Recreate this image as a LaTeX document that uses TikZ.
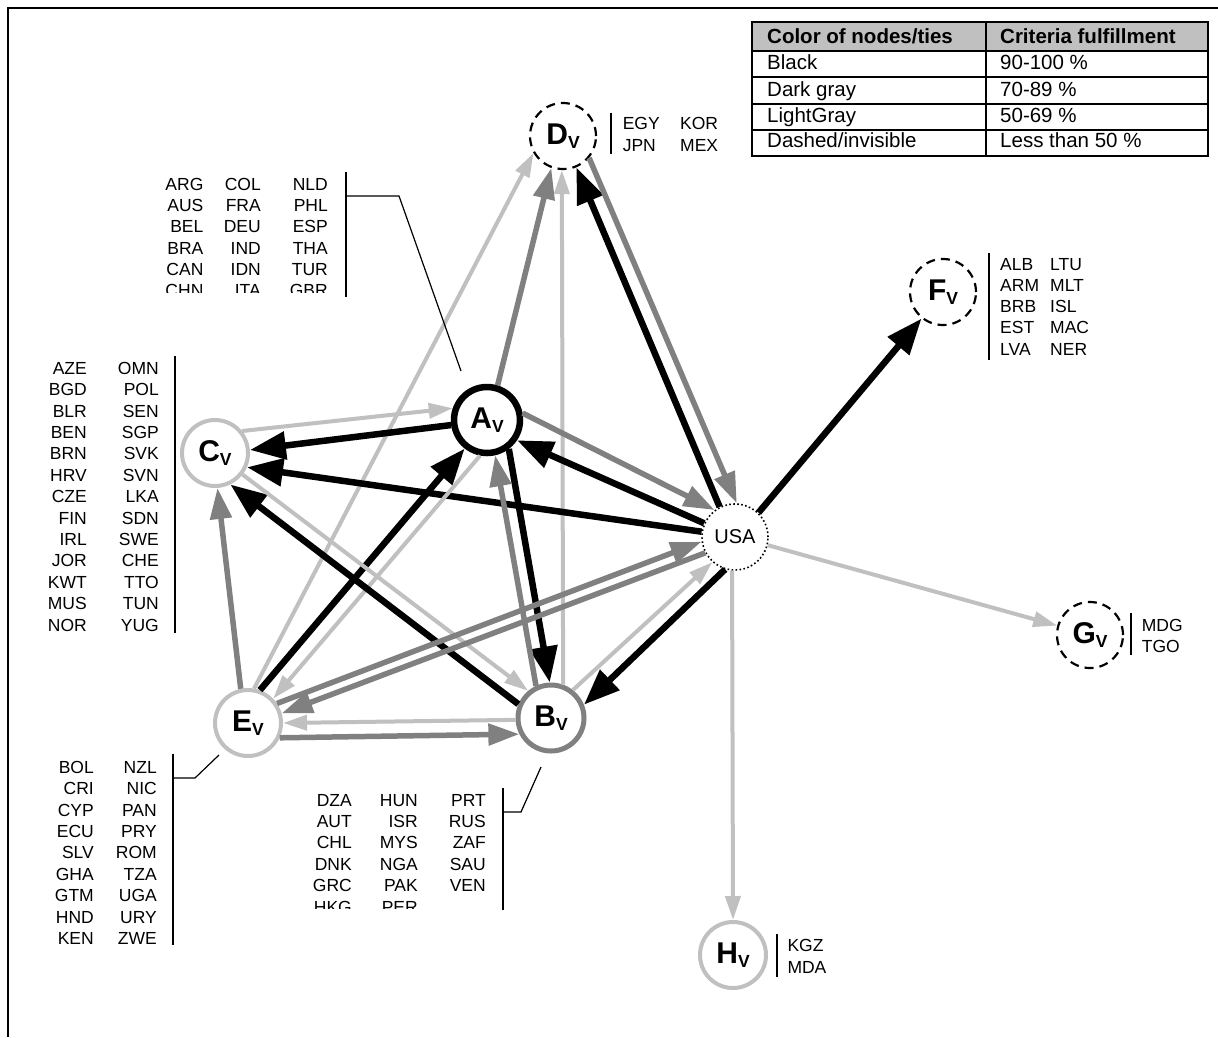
\documentclass[tikz,border=0pt]{standalone}
\usepackage{fontspec}
\setmainfont{Liberation Sans}
\usetikzlibrary{arrows.meta}
\definecolor{dg}{HTML}{808080}
\definecolor{lg}{HTML}{C0C0C0}
\newcommand\vlab[1]{{\fontsize{30}{30}\selectfont\bfseries #1\raisebox{-3.5pt}{\fontsize{17.5}{17.5}\selectfont V}}}
\begin{document}
\begin{tikzpicture}[x=1pt,y=-1pt,
  vnode/.style={circle, minimum size=66pt, inner sep=0pt, fill=white},
  nblack/.style={vnode, draw=black, line width=6.5pt},
  ndark/.style={vnode, draw=dg, line width=5pt},
  nlight/.style={vnode, draw=lg, line width=4pt},
  ndash/.style={vnode, draw=black, line width=2.2pt, dash pattern=on 9pt off 6pt},
  ndot/.style={vnode, draw=black, line width=1.6pt, dash pattern=on 1.6pt off 2.4pt},
  blk/.style={draw=black, line width=6.5pt, -{Triangle[length=36pt,width=27pt]}},
  dgr/.style={draw=dg, line width=5.5pt, -{Triangle[length=31pt,width=21pt]}},
  lgr/.style={draw=lg, line width=4pt, -{Triangle[length=24pt,width=15pt]}},
  code/.style={inner sep=0pt, font=\fontsize{17.5}{21}\selectfont},
  tabtxt/.style={inner sep=0pt, anchor=base west, font=\fontsize{20.5}{24}\selectfont},
  thin/.style={draw=black, line width=1.2pt}]
\useasboundingbox (0,0) rectangle (1218,1037);
\fill[white] (0,0) rectangle (1218,1037);
% frame
\draw[line width=2pt] (8,1037) -- (8,8) -- (1218,8);

% legend table
\fill[lg] (752,22) rectangle (1208,51);
\foreach \yy in {51,77,104,130} \draw[line width=1.8pt] (752,\yy) -- (1208,\yy);
\draw[line width=2pt] (986,22) -- (986,156);
\draw[line width=2pt] (752,22) rectangle (1208,156);
\node[tabtxt] (t1) at (767,43.3) {\bfseries Color of nodes/ties};
\node[tabtxt] (t2) at (1000,43.3) {\bfseries Criteria fulfillment};
\node[tabtxt] (t3) at (767,69.3) {Black};
\node[tabtxt] (t4) at (1000,69.3) {90-100 \%};
\node[tabtxt] (t5) at (767,96) {Dark gray};
\node[tabtxt] (t6) at (1000,96) {70-89 \%};
\node[tabtxt] (t7) at (767,122.3) {LightGray};
\node[tabtxt] (t8) at (1000,122.3) {50-69 \%};
\node[tabtxt] (t9) at (767,147.7) {Dashed/invisible};
\node[tabtxt] (t10) at (1000,147.7) {Less than 50 \%};

% nodes
\node[nblack] (A) at (487,420) {\vlab{A}};
\node[ndot] (USA) at (735,537) {\fontsize{20}{20}\selectfont USA};
\node[nlight] (C) at (215,453) {\vlab{C}};
\node[nlight] (E) at (248,723) {\vlab{E}};
\node[ndark] (B) at (551,718) {\vlab{B}};
\node[ndash] (D) at (563,136) {\vlab{D}};
\node[ndash] (F) at (943,292) {\vlab{F}};
\node[ndash] (G) at (1090,635) {\vlab{G}};
\node[nlight] (H) at (733,955) {\vlab{H}};

% edges
\draw[lgr] (E.80) -- (D.210);
\draw[dgr] (A.73) -- (D.250);
\draw[lgr] (B.70) -- (D.268);
\draw[blk] (USA.117) -- (D.293);
\draw[dgr] (D.320) -- (USA.87);
\draw[blk] (USA.46) -- (F.231);
\draw[lgr] (USA.346) -- (G.164);
\draw[lgr] (USA.265) -- (H.90);
\draw[blk] (A.188) -- (C.5);
\draw[lgr] (C.39) -- (A.161);
\draw[blk] (USA.171) -- (C.336);
\draw[blk] (USA.156) -- (A.326);
\draw[dgr] (A.11) -- (USA.127);
\draw[blk] (A.307) -- (B.92);
\draw[dgr] (B.115) -- (A.283);
\draw[blk] (E.70) -- (A.232);
\draw[lgr] (A.259) -- (E.44);
\draw[dgr] (E.102) -- (C.274);
\draw[blk] (B.157) -- (C.296);
\draw[lgr] (C.322) -- (B.130);
\draw[dgr] (E.34) -- (USA.188);
\draw[dgr] (USA.208) -- (E.16);
\draw[lgr] (B.183) -- (E.0);
\draw[dgr] (E.335) -- (B.207);
\draw[lgr] (B.52) -- (USA.228);
\draw[blk] (USA.253) -- (B.22);

% ---- country lists ----
% A group (clipped)
\begin{scope}
\clip (150,160) rectangle (340,292.5);
\foreach \t [count=\i from 0] in {ARG,AUS,BEL,BRA,CAN,CHN}
  \node[code, anchor=base east] (ga1\i) at (203.6,{190.3+21.3*\i}) {\t};
\foreach \t [count=\i from 0] in {COL,FRA,DEU,IND,IDN,ITA}
  \node[code, anchor=base east] (ga2\i) at (261,{190.3+21.3*\i}) {\t};
\foreach \t [count=\i from 0] in {NLD,PHL,ESP,THA,TUR,GBR}
  \node[code, anchor=base east] (ga3\i) at (328,{190.3+21.3*\i}) {\t};
\end{scope}
\draw[thin] (346,172) -- (346,297);
\draw[thin] (346,196) -- (399,196) -- (461,371);

% C group
\foreach \t [count=\i from 0] in {AZE,BGD,BLR,BEN,BRN,HRV,CZE,FIN,IRL,JOR,KWT,MUS,NOR}
  \node[code, anchor=base east] (gc1\i) at (87,{374.3+21.4*\i}) {\t};
\foreach \t [count=\i from 0] in {OMN,POL,SEN,SGP,SVK,SVN,LKA,SDN,SWE,CHE,TTO,TUN,YUG}
  \node[code, anchor=base east] (gc2\i) at (159,{374.3+21.4*\i}) {\t};
\draw[thin] (175,356) -- (175,633);

% E group
\foreach \t [count=\i from 0] in {BOL,CRI,CYP,ECU,SLV,GHA,GTM,HND,KEN}
  \node[code, anchor=base east] (ge1\i) at (94,{773.3+21.4*\i}) {\t};
\foreach \t [count=\i from 0] in {NZL,NIC,PAN,PRY,ROM,TZA,UGA,URY,ZWE}
  \node[code, anchor=base east] (ge2\i) at (157,{773.3+21.4*\i}) {\t};
\draw[thin] (173,754) -- (173,945);
\draw[thin] (173,778) -- (195,778) -- (219,755);

% B group (clipped)
\begin{scope}
\clip (300,780) rectangle (500,908);
\foreach \t [count=\i from 0] in {DZA,AUT,CHL,DNK,GRC,HKG}
  \node[code, anchor=base east] (gb1\i) at (352,{806+21.4*\i}) {\t};
\foreach \t [count=\i from 0] in {HUN,ISR,MYS,NGA,PAK,PER}
  \node[code, anchor=base east] (gb2\i) at (418,{806+21.4*\i}) {\t};
\foreach \t [count=\i from 0] in {PRT,RUS,ZAF,SAU,VEN}
  \node[code, anchor=base east] (gb3\i) at (486,{806+21.4*\i}) {\t};
\end{scope}
\draw[thin] (503,788) -- (503,910);
\draw[thin] (503,812) -- (521,812) -- (541,767);

% D group
\draw[thin] (611,113) -- (611,154);
\node[code, anchor=base west] (gd1) at (622.6,129.3) {EGY};
\node[code, anchor=base west] (gd2) at (622.6,151.5) {JPN};
\node[code, anchor=base west] (gd3) at (680,129.3) {KOR};
\node[code, anchor=base west] (gd4) at (680,151.5) {MEX};

% F group
\draw[thin] (989,253) -- (989,360);
\foreach \t [count=\i from 0] in {ALB,ARM,BRB,EST,LVA}
  \node[code, anchor=base west] (gf1\i) at (1000,{270+21.25*\i}) {\t};
\foreach \t [count=\i from 0] in {LTU,MLT,ISL,MAC,NER}
  \node[code, anchor=base west] (gf2\i) at (1050,{270+21.25*\i}) {\t};

% G group
\draw[thin] (1131,613) -- (1131,655);
\node[code, anchor=base west] (gg1) at (1141.7,631.7) {MDG};
\node[code, anchor=base west] (gg2) at (1141.7,652.7) {TGO};

% H group
\draw[thin] (777,934) -- (777,977);
\node[code, anchor=base west] (gh1) at (787.3,951.7) {KGZ};
\node[code, anchor=base west] (gh2) at (787.3,973.3) {MDA};
\end{tikzpicture}
\end{document}
